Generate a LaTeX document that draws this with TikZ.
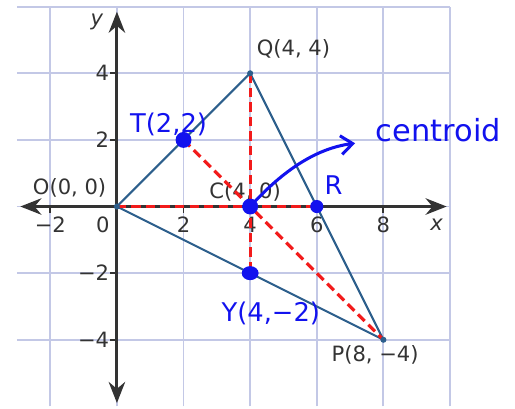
\documentclass[tikz,border=0pt]{standalone}
\usepackage{fontspec}
\setmainfont{DejaVu Sans}
\usepackage{tikz}
\usetikzlibrary{arrows.meta, positioning, calc}
\tikzset{every node/.style={font=\fontsize{9}{10}\selectfont}}
\definecolor{gridblue}{HTML}{C3C8E6}
\definecolor{axisgray}{HTML}{333333}
\definecolor{sideblue}{HTML}{2D5F8C}
\definecolor{medianred}{HTML}{F21B1B}
\definecolor{penblue}{HTML}{1212EE}

\begin{document}
\begin{tikzpicture}[x=0.5cm, y=0.5cm,
    axis/.style={axisgray, line width=1.3pt, {Stealth[length=9pt,width=7pt]}-{Stealth[length=9pt,width=7pt]}},
    median/.style={medianred, line width=1.3pt, dash pattern=on 4pt off 2.2pt},
    pen/.style={penblue, font=\fontsize{11}{12}\selectfont},
    num/.style={axisgray}]
    \useasboundingbox (-3.51,-6.05) rectangle (11.95,6.2);
    \draw[gridblue, line width=0.8pt] (-3,-6) grid (10,6);
    \coordinate (O) at (0,0);
    \coordinate (Q) at (4,4);
    \coordinate (P) at (8,-4);
    \coordinate (T) at (2,2);
    \coordinate (R) at (6,0);
    \coordinate (Y) at (4,-2);
    \coordinate (C) at (4,0);
    \coordinate (xl) at (-2.9,0);
    \coordinate (xr) at (9.9,0);
    \coordinate (yb) at (0,-5.9);
    \coordinate (yt) at (0,5.85);
    \draw[axis] (xl) -- (xr);
    \draw[axis] (yb) -- (yt);
    \foreach \t in {-2,2,4,6,8} \draw[axisgray, line width=0.8pt] (\t,0) -- (\t,-0.2);
    \foreach \t in {-4,-2,2,4} \draw[axisgray, line width=0.8pt] (0,\t) -- (-0.2,\t);
    \node[num] (xm2) at (-2,-0.55) {−2};
    \node[num] (x0) at (-0.42,-0.55) {0};
    \node[num] (x2) at (2,-0.55) {2};
    \node[num] (x4) at (4,-0.55) {4};
    \node[num] (x6) at (6,-0.55) {6};
    \node[num] (x8) at (8,-0.55) {8};
    \node[num, font=\fontsize{9}{10}\selectfont\itshape] (xlab) at (9.6,-0.55) {x};
    \node[num, left, inner sep=1pt] (y4) at (-0.15,4) {4};
    \node[num, left, inner sep=1pt] (y2) at (-0.15,2) {2};
    \node[num, left, inner sep=1pt] (ym2) at (-0.15,-2) {−2};
    \node[num, left, inner sep=1pt] (ym4) at (-0.15,-4) {−4};
    \node[num, font=\fontsize{9}{10}\selectfont\itshape] (ylab) at (-0.6,5.55) {y};
    \node[num] (Olab) at (-1.42,0.55) {O(0, 0)};
    \node[num] (Qlab) at (5.3,4.72) {Q(4, 4)};
    \node[num] (Clab) at (3.85,0.45) {C(4, 0)};
    \node[num] (Plab) at (7.75,-4.45) {P(8, −4)};
    \draw[sideblue, line width=0.9pt] (O) -- (Q) -- (P) -- cycle;
    \draw[median] (O) -- (R);
    \draw[median] (Q) -- (Y);
    \draw[median] (T) -- (P);
    \foreach \v in {O,Q,P} \fill[sideblue] (\v) circle (1.3pt);
    \fill[penblue] (T) circle (3.4pt);
    \fill[penblue] (C) circle (3.4pt);
    \fill[penblue] (R) circle (2.8pt);
    \fill[penblue] (Y) ellipse (3.6pt and 3pt);
    \coordinate (tip) at (7.15,1.9);
    \draw[penblue, line width=1.3pt, line cap=round, -{Straight Barb[length=5pt,width=8pt]}]
      (C) .. controls (5,1.1) and (6,1.75) .. (tip);
    \node[pen, font=\fontsize{13}{14}\selectfont] (centroid) at (9.65,2.3) {centroid};
    \node[pen] (Rlab) at (6.5,0.65) {R};
    \node[pen] (Tlab) at (1.55,2.45) {T(2,2)};
    \node[pen, inner sep=0pt] (Ylab) at (4.62,-3.2) {Y(4,−2)};
  \end{tikzpicture}
\end{document}
